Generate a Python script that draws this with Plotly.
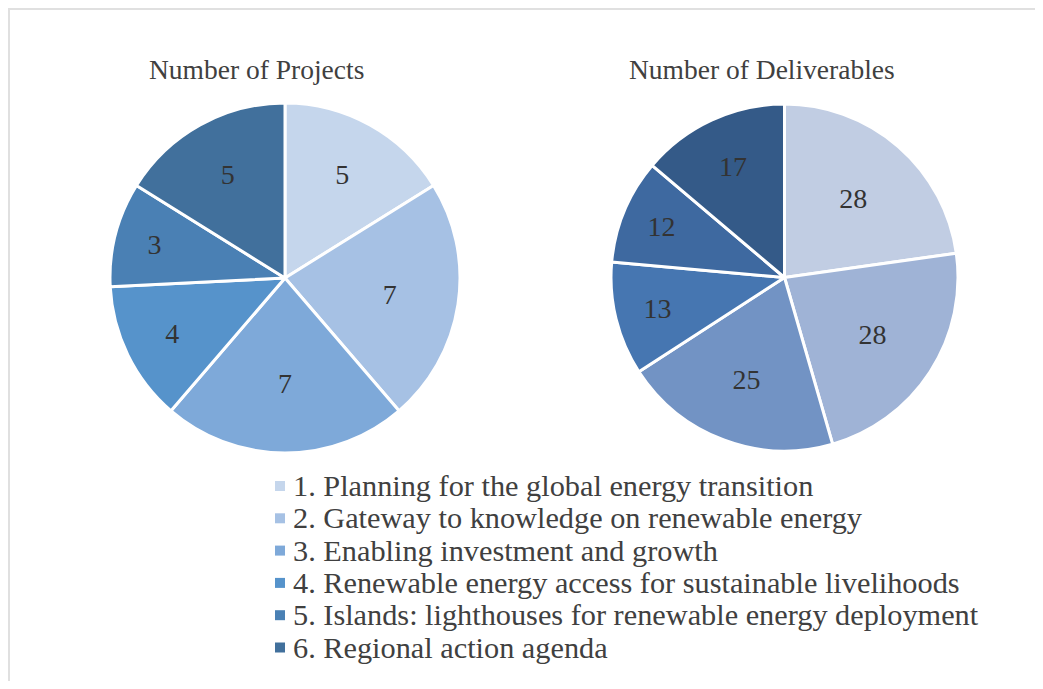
import plotly.graph_objects as go

# page is rendered with an 8px body margin; work in page pixels and convert
OFF = 8
W, H = 1043 - 2 * OFF, 689 - 2 * OFF

categories = [
    "1. Planning for the global energy transition",
    "2. Gateway to knowledge on renewable energy",
    "3. Enabling investment and growth",
    "4. Renewable energy access for sustainable livelihoods",
    "5. Islands: lighthouses for renewable energy deployment",
    "6. Regional action agenda",
]
projects = [5, 7, 7, 4, 3, 5]
deliverables = [28, 28, 25, 13, 12, 17]
titles = ["Number of Projects", "Number of Deliverables"]

colors_projects = ["#c5d6ec", "#a6c1e4", "#7ea9d9", "#5693cb", "#4a80b4", "#41709c"]
colors_deliv = ["#c1cde3", "#9fb3d6", "#7293c4", "#4676b1", "#3e69a0", "#345a88"]

FONT = "Liberation Serif, Times New Roman, serif"
TXT = "#404040"


def px(x):
    return (x - OFF) / W


def py(y):
    return 1 - (y - OFF) / H


def px_dom(x0, x1, y0, y1):
    return dict(x=[px(x0), px(x1)], y=[py(y1), py(y0)])


fig = go.Figure()
fig.add_trace(go.Pie(
    labels=categories, values=projects, sort=False, direction="clockwise",
    rotation=0, domain=px_dom(110, 460, 103, 453),
    marker=dict(colors=colors_projects, line=dict(color="white", width=3)),
    textinfo="value", textposition="inside", insidetextorientation="horizontal",
    textfont=dict(family=FONT, size=28, color="#333333"),
    hoverinfo="label+value", showlegend=False,
))
fig.add_trace(go.Pie(
    labels=categories, values=deliverables, sort=False, direction="clockwise",
    rotation=0, domain=px_dom(611, 958, 104, 451),
    marker=dict(colors=colors_deliv, line=dict(color="white", width=3)),
    textinfo="value", textposition="inside", insidetextorientation="horizontal",
    textfont=dict(family=FONT, size=28, color="#333333"),
    hoverinfo="label+value", showlegend=False,
))

annotations = [
    dict(text=titles[0], x=px(256.5), y=py(69), xref="paper", yref="paper",
         xanchor="center", yanchor="middle", showarrow=False,
         font=dict(family=FONT, size=27.5, color=TXT)),
    dict(text=titles[1], x=px(762), y=py(69), xref="paper", yref="paper",
         xanchor="center", yanchor="middle", showarrow=False,
         font=dict(family=FONT, size=27.5, color=TXT)),
]
shapes = [
    dict(type="rect", xref="paper", yref="paper",
         x0=px(9), x1=1.05, y0=-0.05, y1=py(9),
         line=dict(color="#e0e0e0", width=2), fillcolor="rgba(0,0,0,0)", layer="below"),
]

# legend (swatches + labels), one row per category
LEG_Y0, LEG_DY = 486, 32.3
for i, (cat, col) in enumerate(zip(categories, colors_projects)):
    yc = LEG_Y0 + i * LEG_DY
    shapes.append(dict(type="rect", xref="paper", yref="paper",
                       x0=px(275), x1=px(285), y0=py(yc + 5), y1=py(yc - 5),
                       line=dict(width=0), fillcolor=col))
    annotations.append(dict(text=cat, x=px(291), y=py(yc), xref="paper", yref="paper",
                            xanchor="left", yanchor="middle", showarrow=False,
                            font=dict(family=FONT, size=30.3, color=TXT)))

fig.update_layout(
    width=W, height=H,
    margin=dict(l=0, r=0, t=0, b=0),
    paper_bgcolor="white", plot_bgcolor="white",
    font=dict(family=FONT, color=TXT),
    showlegend=False,
    annotations=annotations,
    shapes=shapes,
)

fig.write_html("out.html")
